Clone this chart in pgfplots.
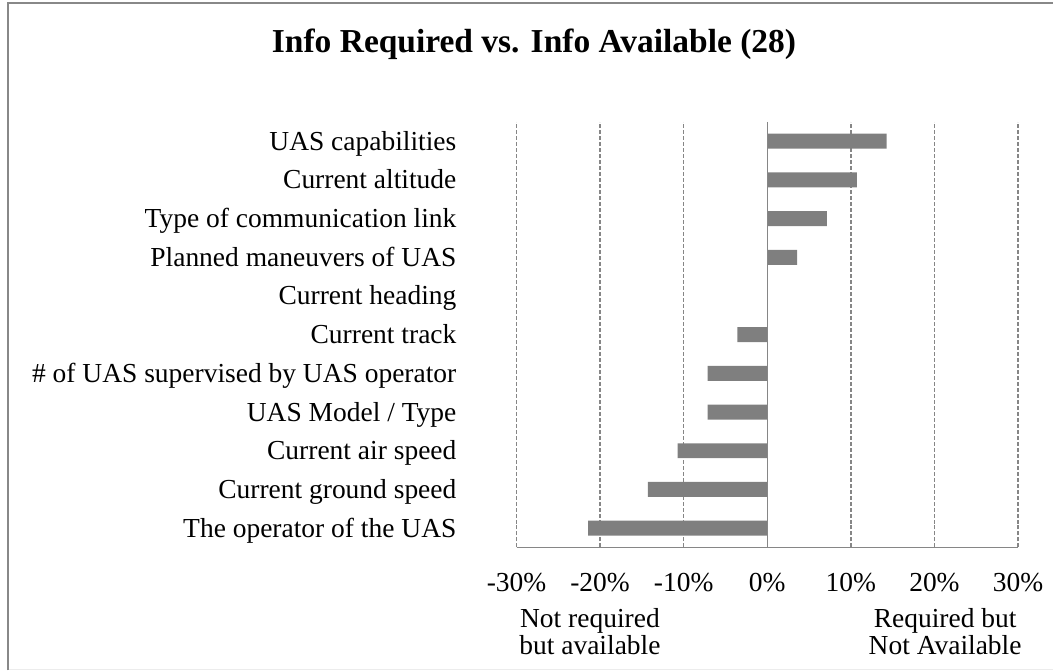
\documentclass[border=0pt]{standalone}
\usepackage{fontspec}
\setmainfont{Liberation Serif}
\usepackage{pgfplots}
\pgfplotsset{compat=1.18}

\definecolor{barGray}{RGB}{127,127,127}
\definecolor{lineGray}{RGB}{134,134,134}
\definecolor{frameGray}{RGB}{136,136,136}

\begin{document}
\begin{tikzpicture}[x=1pt,y=1pt]
% canvas in reference pixels (1054 x 671)
\path (0,0) rectangle (1054,671);
\draw[frameGray, line width=2pt] (8,0) -- (8,668) -- (1054,668);
\draw[gray!15, line width=1pt] (9,0.5) -- (1054,0.5);

\begin{axis}[
    at={(517pt,123pt)}, anchor=south west,
    scale only axis,
    width=502pt, height=426pt,
    xbar, bar width=15pt,
    xmin=-30, xmax=30,
    ymin=-0.5, ymax=10.5,
    xtick={-30,-20,-10,0,10,20,30},
    xticklabels={-30\%,-20\%,-10\%,0\%,10\%,20\%,30\%},
    ytick={0,...,10},
    yticklabels={The operator of the UAS,Current ground speed,Current air speed,UAS Model / Type,\# of UAS supervised by UAS operator,Current track,Current heading,Planned maneuvers of UAS,Type of communication link,Current altitude,UAS capabilities},
    major tick length=0pt,
    axis line style={draw=none},
    xmajorgrids,
    grid style={lineGray, line width=1.3pt, dash pattern=on 4pt off 2pt},
    tick label style={font=\fontsize{27.5}{27.5}\selectfont, inner sep=0pt},
    xticklabel style={anchor=base, yshift=-44pt},
    yticklabel style={anchor=base east, xshift=-60pt, yshift=-9pt},
    clip=false,
]
% share of 28 respondents, in %
\addplot[fill=barGray, draw=none] coordinates {
    (-21.43,0)
    (-14.29,1)
    (-10.71,2)
    (-7.14,3)
    (-7.14,4)
    (-3.57,5)
    (0,6)
    (3.57,7)
    (7.14,8)
    (10.71,9)
    (14.29,10)
};
\draw[lineGray, line width=1.3pt] (axis cs:-30,-0.5) -- (axis cs:30,-0.5);
\draw[lineGray, line width=1.3pt] (axis cs:0,-0.5) -- (axis cs:0,10.5);
\end{axis}

\node[anchor=base, font=\bfseries\fontsize{33.5}{33.5}\selectfont] at (534.5,618) {Info Required vs. Info Available (28)};
\node[anchor=base, inner sep=0pt, font=\fontsize{27.5}{27.5}\selectfont] at (590.5,43) {Not required};
\node[anchor=base, inner sep=0pt, font=\fontsize{27.5}{27.5}\selectfont] at (590.5,16) {but available};
\node[anchor=base, inner sep=0pt, font=\fontsize{27.5}{27.5}\selectfont] at (946,43) {Required but};
\node[anchor=base, inner sep=0pt, font=\fontsize{27.5}{27.5}\selectfont] at (946,16) {Not Available};
\end{tikzpicture}
\end{document}
